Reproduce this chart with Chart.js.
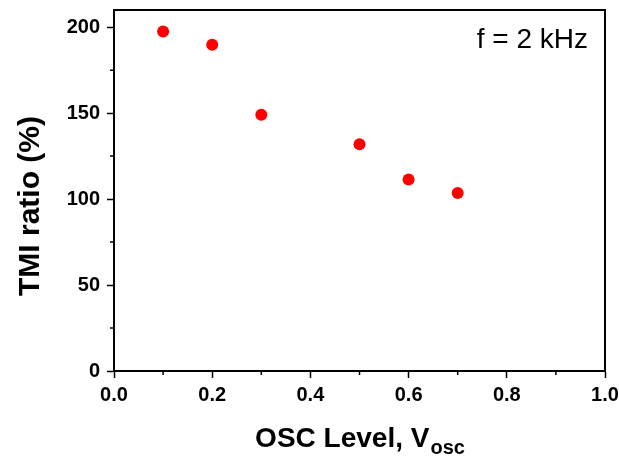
<!DOCTYPE html>
<html>
<head>
<meta charset="utf-8">
<script src="https://cdn.jsdelivr.net/npm/chart.js@4/dist/chart.umd.min.js"></script>
<style>
  html, body { margin: 0; padding: 0; background: #fff; }
  canvas { display: block; }
</style>
</head>
<body>
<canvas id="chart" width="619" height="457"></canvas>
<script>
const oscLevels = [0.1, 0.2, 0.3, 0.5, 0.6, 0.7];
const tmiRatios = [197.5, 189.8, 149.1, 131.9, 111.4, 103.6];
const xMinorTicks = [0.1, 0.3, 0.5, 0.7, 0.9];
const yMinorTicks = [25, 75, 125, 175];
const xTitle = 'OSC Level, V';
const xTitleSub = 'osc';
const yTitle = 'TMI ratio (%)';
const note = 'f = 2 kHz';

const FONT = "'Liberation Sans', Arial, sans-serif";

// frame, minor ticks, axis titles and the note
const extras = {
  id: 'extras',
  afterDraw(chart) {
    const { ctx, chartArea: a, scales: { x, y } } = chart;
    ctx.save();
    ctx.strokeStyle = '#000';
    ctx.lineWidth = 2;
    ctx.beginPath();
    ctx.moveTo(a.left, a.top);
    ctx.lineTo(a.right, a.top);
    ctx.lineTo(a.right, a.bottom);
    ctx.stroke();

    ctx.lineWidth = 1.5;
    ctx.beginPath();
    xMinorTicks.forEach(v => {
      const px = x.getPixelForValue(v);
      ctx.moveTo(px, a.bottom);
      ctx.lineTo(px, a.bottom + 4);
    });
    yMinorTicks.forEach(v => {
      const py = y.getPixelForValue(v);
      ctx.moveTo(a.left, py);
      ctx.lineTo(a.left - 4, py);
    });
    ctx.stroke();

    ctx.fillStyle = '#000';
    ctx.textBaseline = 'alphabetic';

    // x title with subscript
    const big = 'bold 28px ' + FONT, small = 'bold 20px ' + FONT;
    ctx.font = big;
    const w1 = ctx.measureText(xTitle).width;
    ctx.font = small;
    const w2 = ctx.measureText(xTitleSub).width;
    const sx = (a.left + a.right) / 2 - (w1 + w2) / 2;
    ctx.textAlign = 'left';
    ctx.font = big;
    ctx.fillText(xTitle, sx, 447);
    ctx.font = small;
    ctx.fillText(xTitleSub, sx + w1 + 1, 454);

    // y title
    ctx.save();
    ctx.translate(39, 206);
    ctx.rotate(-Math.PI / 2);
    ctx.textAlign = 'center';
    ctx.font = 'bold 30px ' + FONT;
    ctx.fillText(yTitle, 0, 0);
    ctx.restore();

    // note
    ctx.textAlign = 'right';
    ctx.font = '28px ' + FONT;
    ctx.fillText(note, 588, 48);
    ctx.restore();
  }
};

const noPad = s => { s.paddingLeft = 0; s.paddingRight = 0; s.paddingTop = 0; s.paddingBottom = 0; };

new Chart(document.getElementById('chart'), {
  type: 'scatter',
  data: {
    datasets: [{
      data: oscLevels.map((v, i) => ({ x: v, y: tmiRatios[i] })),
      backgroundColor: '#ff0000',
      borderWidth: 0,
      pointRadius: 6,
      pointHoverRadius: 6
    }]
  },
  options: {
    responsive: false,
    animation: false,
    layout: { padding: { top: 10, right: 14, left: 0, bottom: 0 } },
    plugins: { legend: { display: false }, tooltip: { enabled: false } },
    scales: {
      x: {
        type: 'linear',
        min: 0,
        max: 1,
        afterFit: s => { s.height = 86; noPad(s); },
        border: { color: '#000', width: 2 },
        grid: { drawOnChartArea: false, tickLength: 7, tickColor: '#000', tickWidth: 1.5 },
        ticks: {
          stepSize: 0.2,
          padding: 5,
          color: '#000',
          font: { family: FONT, size: 20, weight: 'bold' },
          callback: v => v.toFixed(1)
        }
      },
      y: {
        type: 'linear',
        min: 0,
        max: 210,
        afterFit: s => { s.width = 114; noPad(s); },
        border: { color: '#000', width: 2 },
        grid: { drawOnChartArea: false, tickLength: 7, tickColor: '#000', tickWidth: 1.5 },
        ticks: {
          stepSize: 50,
          includeBounds: false,
          padding: 7,
          color: '#000',
          font: { family: FONT, size: 20, weight: 'bold' }
        }
      }
    }
  },
  plugins: [extras]
});
</script>
</body>
</html>
